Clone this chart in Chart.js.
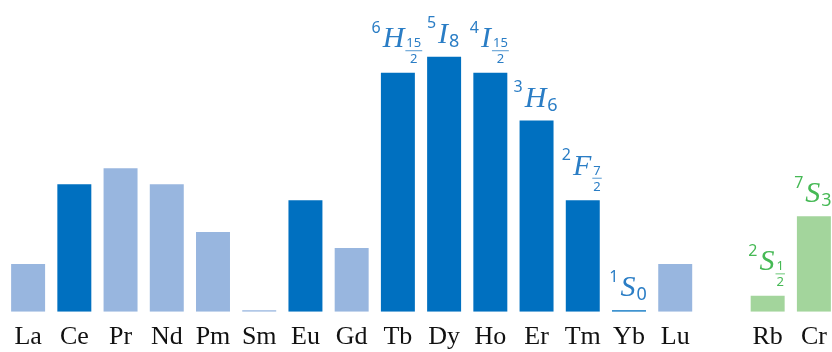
<!DOCTYPE html>
<html>
<head>
<meta charset="utf-8">
<script src="https://cdn.jsdelivr.net/npm/chart.js@4"></script>
<style>
  body { margin: 0; overflow: hidden; background: #fff; }
</style>
</head>
<body>
<canvas id="chart" width="840" height="352"></canvas>
<script>
// Data
const elements = ["La", "Ce", "Pr", "Nd", "Pm", "Sm", "Eu", "Gd", "Tb", "Dy", "Ho", "Er", "Tm", "Yb", "Lu", "", "Rb", "Cr"];
const values = [3, 8, 9, 8, 5, 0, 7, 4, 15, 16, 15, 12, 7, 0, 3, null, 1, 6];
const groups = ["light", "dark", "light", "light", "light", "light", "dark", "light", "dark", "dark", "dark", "dark", "dark", "dark", "light", "", "green", "green"];
// term symbols: [multiplicity, letter, J]
const terms = [null, null, null, null, null, null, null, null,
  ["6", "H", "15/2"], ["5", "I", "8"], ["4", "I", "15/2"], ["3", "H", "6"], ["2", "F", "7/2"], ["1", "S", "0"],
  null, null, ["2", "S", "1/2"], ["7", "S", "3"]];

const barColors = { light: "#98b6df", dark: "#0070c0", green: "#a3d59c", "": "#fff" };
const textColors = { dark: "#2a7dc5", green: "#46b955" };

const termPlugin = {
  id: "terms",
  afterDatasetsDraw(chart) {
    const ctx = chart.ctx;
    const meta = chart.getDatasetMeta(0);
    const supFont = "16px 'Noto Sans'";
    const mainFont = "italic 30px 'Liberation Serif'";
    const subFont = "18px 'Noto Sans'";
    const fracFont = "13px 'Noto Sans'";
    meta.data.forEach((bar, i) => {
      const t = terms[i];
      if (!t) return;
      const [mult, letter, j] = t;
      const frac = j.includes("/");
      const parts = j.split("/");
      ctx.save();
      ctx.fillStyle = textColors[groups[i]];
      ctx.strokeStyle = textColors[groups[i]];
      ctx.textBaseline = "alphabetic";
      ctx.font = supFont;
      const wSup = ctx.measureText(mult).width;
      ctx.font = mainFont;
      const wMain = ctx.measureText(letter).width;
      let wSub;
      if (frac) {
        ctx.font = fracFont;
        wSub = Math.max(...parts.map(s => ctx.measureText(s).width)) + 2;
      } else {
        ctx.font = subFont;
        wSub = ctx.measureText(j).width;
      }
      const total = wSup + 2 + wMain + 1 + wSub;
      let x = bar.x - total / 2 - 1;
      const top = Math.min(bar.y, bar.base);
      const base = top - (frac ? 25.5 : 14);

      ctx.textAlign = "left";
      ctx.font = supFont;
      ctx.fillText(mult, x, base - 14.4);
      x += wSup + 2;
      ctx.font = mainFont;
      ctx.fillText(letter, x, base);
      x += wMain + 1;
      if (frac) {
        ctx.font = fracFont;
        ctx.textAlign = "center";
        const cx = x + wSub / 2;
        ctx.fillText(parts[0], cx, base);
        ctx.fillText(parts[1], cx, base + 16);
        ctx.lineWidth = 0.8;
        ctx.beginPath();
        ctx.moveTo(x, base + 3.5);
        ctx.lineTo(x + wSub, base + 3.5);
        ctx.stroke();
      } else {
        ctx.font = subFont;
        ctx.fillText(j, x, base + 4);
      }
      ctx.restore();
    });
  }
};

const ctx = document.getElementById("chart").getContext("2d");
const myChart = new Chart(ctx, {
  type: "bar",
  data: {
    labels: elements,
    datasets: [
      {
        data: values,
        backgroundColor: groups.map(g => barColors[g]),
        barPercentage: 0.735,
        categoryPercentage: 1,
        minBarLength: 1.5,
      },
    ],
  },
  options: {
    responsive: false,
    animation: false,
    layout: { padding: { left: 5, right: 3, top: 1, bottom: -11 } },
    plugins: {
      legend: { display: false },
      tooltip: { enabled: false },
    },
    scales: {
      x: {
        grid: { display: false, drawTicks: false },
        border: { display: false },
        ticks: {
          color: "#111",
          padding: 10,
          font: { family: "'Liberation Serif'", size: 26 },
        },
      },
      y: { display: false, min: 0, max: 19.5 },
    },
  },
  plugins: [termPlugin],
});
</script>
</body>
</html>
